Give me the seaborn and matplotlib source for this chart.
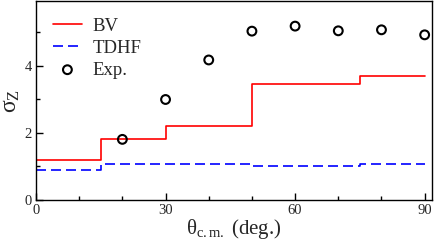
import matplotlib
matplotlib.use("Agg")
import matplotlib.pyplot as plt
import seaborn as sns
import pandas as pd
from matplotlib.ticker import MultipleLocator

# Step edges (theta, deg.) and values
bv_x = [0, 0, 15, 30, 50, 75, 90]
bv_y = [0, 1.18, 1.82, 2.22, 3.46, 3.70, 3.70]
tdhf_x = [0, 0, 15, 50, 75, 90]
tdhf_y = [0, 0.90, 1.08, 1.02, 1.07, 1.07]
exp_x = [20, 30, 40, 50, 60, 70, 80, 90]
exp_y = [1.81, 3.00, 4.18, 5.04, 5.19, 5.05, 5.08, 4.93]

sns.set_style("ticks")
plt.rcParams['font.family'] = ['Liberation Serif', 'DejaVu Serif']
plt.rcParams['mathtext.fontset'] = 'custom'
plt.rcParams['mathtext.rm'] = 'Liberation Serif'
plt.rcParams['mathtext.it'] = 'Liberation Serif:italic'

fig = plt.figure(figsize=(4.36, 2.45), dpi=100)
ax = fig.add_axes([36/436, 1 - 200/245, (432-36)/436, 199/245])

bv = pd.DataFrame({'x': bv_x, 'y': bv_y})
td = pd.DataFrame({'x': tdhf_x, 'y': tdhf_y})
ex = pd.DataFrame({'x': exp_x, 'y': exp_y})

sns.lineplot(data=bv, x='x', y='y', ax=ax, color='#ff0000', lw=1.2,
             estimator=None, sort=False, drawstyle='steps-post', label='BV')
sns.lineplot(data=td, x='x', y='y', ax=ax, color='#0000ff', lw=1.2,
             estimator=None, sort=False, drawstyle='steps-post', label='TDHF',
             dashes=False, linestyle=(0, (6, 3)))
sns.scatterplot(data=ex, x='x', y='y', ax=ax, marker='o', s=40,
                facecolor='none', edgecolor='black', linewidth=1.5, label='Exp.', zorder=5)

ax.set_xlim(0, 91.7)
ax.set_ylim(0, 5.94)
ax.xaxis.set_major_locator(MultipleLocator(30))
ax.xaxis.set_minor_locator(MultipleLocator(10))
ax.yaxis.set_major_locator(MultipleLocator(2))
ax.yaxis.set_minor_locator(MultipleLocator(1))
ax.tick_params(which='both', direction='in', labelsize=10.5, width=1, color='black')
ax.tick_params(which='major', length=5, pad=3)
ax.tick_params(which='minor', length=3)
for s in ax.spines.values():
    s.set_linewidth(1.0)
    s.set_color('black')

ax.set_xlabel('θ$_{\\mathrm{c.m.}}$ (deg.)', fontsize=15, labelpad=0)
ax.set_ylabel('σ$_{\\mathrm{Z}}$', fontsize=17, labelpad=2)

leg = ax.legend(loc='upper left', frameon=False, fontsize=13.5, handlelength=1.55,
                labelspacing=0.25, handletextpad=0.55)

fig.savefig('out.png', dpi=100)
